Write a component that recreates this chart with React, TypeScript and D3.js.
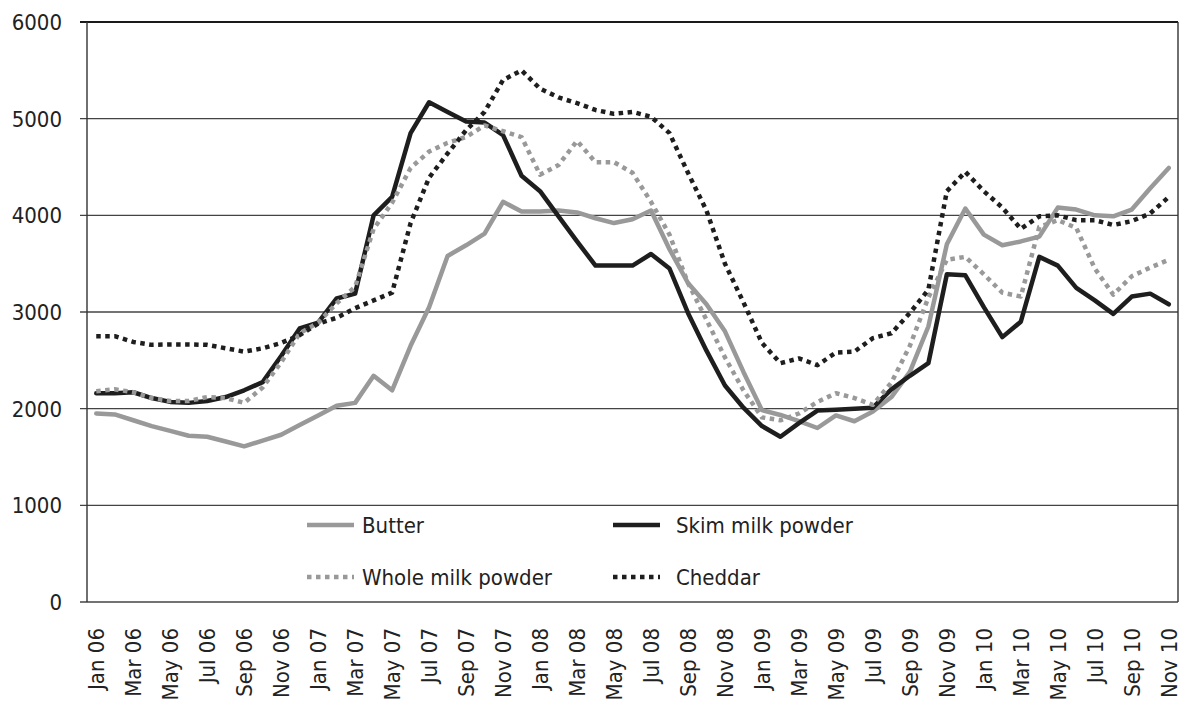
import React from "react";
import * as d3 from "d3";

const months = [
  "Jan 06","Feb 06","Mar 06","Apr 06","May 06","Jun 06","Jul 06","Aug 06","Sep 06","Oct 06","Nov 06","Dec 06",
  "Jan 07","Feb 07","Mar 07","Apr 07","May 07","Jun 07","Jul 07","Aug 07","Sep 07","Oct 07","Nov 07","Dec 07",
  "Jan 08","Feb 08","Mar 08","Apr 08","May 08","Jun 08","Jul 08","Aug 08","Sep 08","Oct 08","Nov 08","Dec 08",
  "Jan 09","Feb 09","Mar 09","Apr 09","May 09","Jun 09","Jul 09","Aug 09","Sep 09","Oct 09","Nov 09","Dec 09",
  "Jan 10","Feb 10","Mar 10","Apr 10","May 10","Jun 10","Jul 10","Aug 10","Sep 10","Oct 10","Nov 10",
];

const butter = [
  1950, 1940, 1880, 1820, 1770, 1720, 1710, 1660, 1610, 1670, 1730, 1830,
  1930, 2030, 2060, 2340, 2190, 2650, 3050, 3580, 3690, 3810, 4140, 4040,
  4040, 4050, 4030, 3970, 3920, 3960, 4050, 3650, 3300, 3080, 2800, 2380,
  1985, 1935, 1870, 1800, 1930, 1870, 1970, 2120, 2380, 2850, 3700, 4070,
  3800, 3690, 3730, 3780, 4080, 4060, 4000, 3990, 4060, 4280, 4490,
];

const skim = [
  2160, 2160, 2170, 2110, 2070, 2060, 2080, 2120, 2190, 2275, 2545, 2830,
  2890, 3140, 3190, 4000, 4190, 4850, 5170, 5070, 4970, 4960, 4830, 4410,
  4250, 3990, 3730, 3480, 3480, 3480, 3600, 3450, 2990, 2600, 2240, 2010,
  1820, 1710, 1850, 1980, 1990, 2000, 2010, 2200, 2340, 2470, 3390, 3380,
  3050, 2740, 2900, 3570, 3480, 3250, 3120, 2980, 3160, 3190, 3080,
];

const wholeMilk = [
  2180, 2200, 2170, 2110, 2080, 2080, 2120, 2110, 2060, 2220, 2480, 2780,
  2890, 3090, 3260, 3860, 4130, 4490, 4660, 4750, 4810, 4930, 4870, 4810,
  4420, 4520, 4770, 4550, 4550, 4440, 4140, 3800, 3300, 2920, 2530, 2190,
  1910, 1880, 1950, 2070, 2160, 2110, 2040, 2270, 2650, 3150, 3540, 3570,
  3390, 3200, 3160, 3880, 3950, 3870, 3450, 3180, 3370, 3460, 3540,
];

const cheddar = [
  2750, 2750, 2690, 2660, 2665, 2665, 2660, 2625, 2590, 2625, 2680, 2760,
  2880, 2940, 3040, 3120, 3200, 3920, 4390, 4640, 4880, 5070, 5400, 5500,
  5310, 5220, 5160, 5090, 5050, 5070, 5020, 4850, 4440, 4050, 3500, 3100,
  2680, 2470, 2520, 2450, 2580, 2590, 2730, 2780, 2990, 3230, 4250, 4450,
  4250, 4080, 3860, 3990, 4000, 3950, 3950, 3900, 3940, 4020, 4190,
];

const yTicks = [0, 1000, 2000, 3000, 4000, 5000, 6000];

const seriesNames = ["Butter", "Skim milk powder", "Whole milk powder", "Cheddar"];
const seriesValues = [butter, skim, wholeMilk, cheddar];
const seriesColors = ["#999999", "#1e1e1e", "#999999", "#1e1e1e"];
const seriesDash = [null, null, "4.5 4.5", "4.5 4.5"];

const W = 1184;
const H = 706;
const FONT = "'DejaVu Sans Condensed', 'DejaVu Sans', sans-serif";

export default function App() {
  const x = d3.scaleBand<string>().domain(months).range([87, 1178]);
  const cx = (m: string) => (x(m) as number) + x.bandwidth() / 2;
  const y = d3.scaleLinear().domain([0, 6000]).range([602, 22]);

  const line = d3
    .line<number>()
    .x((_, i) => cx(months[i]))
    .y((v) => y(v));

  const legendPos = [
    { lx: 307, tx: 362, ly: 525 },
    { lx: 613, tx: 676, ly: 525 },
    { lx: 307, tx: 362, ly: 577 },
    { lx: 613, tx: 676, ly: 577 },
  ];

  return (
    <svg
      width={W}
      height={H}
      style={{ position: "absolute", left: 0, top: 0, background: "#fff" }}
      fontFamily={FONT}
      fontStretch="condensed"
    >
      <rect x={0} y={0} width={W} height={H} fill="#fff" />
      {yTicks.map((t) => (
        <line
          key={"g" + t}
          x1={80}
          x2={1178}
          y1={y(t)}
          y2={y(t)}
          stroke={t === 6000 ? "#1a1a1a" : "#444"}
          strokeWidth={t === 6000 ? 2 : 1.4}
        />
      ))}
      <line x1={87} x2={87} y1={y(6000)} y2={y(0)} stroke="#333" strokeWidth={1.4} />
      <line x1={1178} x2={1178} y1={y(6000)} y2={y(0)} stroke="#333" strokeWidth={1.4} />
      {yTicks.map((t) => (
        <text
          key={"yl" + t}
          x={62}
          y={y(t)}
          dy="0.36em"
          textAnchor="end"
          fontSize={22}
          fill="#222"
        >
          {t}
        </text>
      ))}
      {months.map((m, i) =>
        i % 2 === 0 ? (
          <text
            key={"xl" + m}
            transform={`translate(${cx(m)},628) rotate(-90)`}
            dy="0.36em"
            textAnchor="end"
            fontSize={22}
            fill="#222"
          >
            {m}
          </text>
        ) : null
      )}
      {seriesValues.map((vals, s) => (
        <path
          key={"s" + s}
          d={line(vals) as string}
          fill="none"
          stroke={seriesColors[s]}
          strokeWidth={4.5}
          strokeDasharray={seriesDash[s] ?? undefined}
          strokeLinejoin="round"
          strokeLinecap={seriesDash[s] ? "butt" : "round"}
        />
      ))}
      {seriesNames.map((name, s) => (
        <g key={"lg" + s}>
          <line
            x1={legendPos[s].lx}
            x2={legendPos[s].lx + 47}
            y1={legendPos[s].ly}
            y2={legendPos[s].ly}
            stroke={seriesColors[s]}
            strokeWidth={4.5}
            strokeDasharray={seriesDash[s] ?? undefined}
          />
          <text
            x={legendPos[s].tx}
            y={legendPos[s].ly}
            dy="0.36em"
            fontSize={22}
            fill="#222"
          >
            {name}
          </text>
        </g>
      ))}
    </svg>
  );
}
